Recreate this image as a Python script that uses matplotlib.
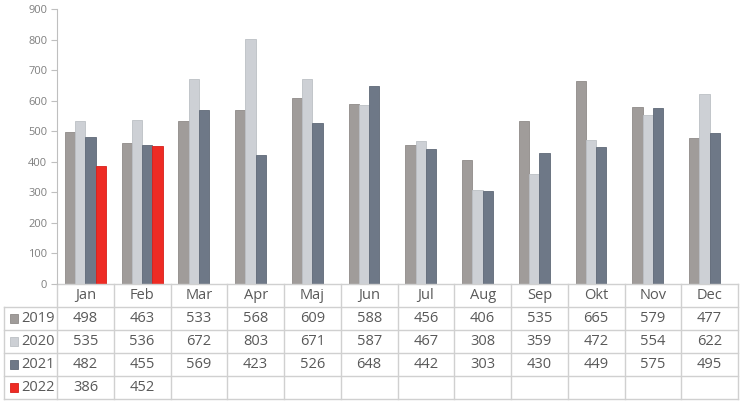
#!/usr/bin/env python3
"""Monthly values 2019-2022 as grouped bars with an Excel-style data table below."""

import matplotlib
matplotlib.use("Agg")
import matplotlib.pyplot as plt
from matplotlib.transforms import blended_transform_factory
from matplotlib.lines import Line2D
from matplotlib.patches import Rectangle

MONTHS = ["Jan", "Feb", "Mar", "Apr", "Maj", "Jun", "Jul", "Aug", "Sep", "Okt", "Nov", "Dec"]
YEARS = ["2019", "2020", "2021", "2022"]
VALUES_2019 = [498, 463, 533, 568, 609, 588, 456, 406, 535, 665, 579, 477]
VALUES_2020 = [535, 536, 672, 803, 671, 587, 467, 308, 359, 472, 554, 622]
VALUES_2021 = [482, 455, 569, 423, 526, 648, 442, 303, 430, 449, 575, 495]
VALUES_2022 = [386, 452]
Y_TICKS = [0, 100, 200, 300, 400, 500, 600, 700, 800, 900]

SERIES = [VALUES_2019, VALUES_2020, VALUES_2021, VALUES_2022]
COLORS = ["#a09c9a", "#cdd0d5", "#6e7887", "#ee2b24"]
EDGES = ["#8f8b89", "#bcc0c5", "#5f6977", "#d8201a"]
TEXT_COLOR = "#595959"
LINE_COLOR = "#d0d0d0"

W, H = 746, 404
fig = plt.figure(figsize=(W / 100, H / 100), dpi=100)
ax = fig.add_axes([57 / W, 120 / H, (738 - 57) / W, 275 / H])

bar_w = 0.18
for i, (vals, col, edge) in enumerate(zip(SERIES, COLORS, EDGES)):
    xs = [m + (i - 1.5) * bar_w for m in range(len(vals))]
    ax.bar(xs, vals, width=bar_w, color=col, edgecolor=edge, linewidth=0.6, zorder=2)

ax.set_xlim(-0.5, len(MONTHS) - 0.5)
ax.set_ylim(0, 900)
ax.set_yticks(Y_TICKS)
ax.set_yticklabels([str(t) for t in Y_TICKS], fontsize=8, color="#7f7f7f", family="Open Sans")
ax.set_xticks([])
ax.tick_params(axis="y", length=4, color="#bfbfbf", width=0.8, pad=3)
for side in ["top", "right", "bottom"]:
    ax.spines[side].set_visible(False)
ax.spines["left"].set_color("#bfbfbf")
ax.spines["left"].set_linewidth(0.8)

# data table below the axes: x in data units, y in axes fraction
tr = blended_transform_factory(ax.transData, ax.transAxes)
row_h = 23 / 275
n_rows = len(YEARS) + 1
left_x = -0.5 - 53 / ((738 - 57) / len(MONTHS))
right_x = len(MONTHS) - 0.5

def hline(x0, x1, y):
    ax.add_line(Line2D([x0, x1], [y, y], transform=tr, color=LINE_COLOR, lw=1.0, clip_on=False))

def vline(x, y0, y1):
    ax.add_line(Line2D([x, x], [y0, y1], transform=tr, color=LINE_COLOR, lw=1.0, clip_on=False))

hline(-0.5, right_x, 0)
for r in range(1, n_rows + 1):
    hline(left_x, right_x, -r * row_h)
vline(left_x, -row_h, -n_rows * row_h)
for k in range(len(MONTHS) + 1):
    vline(k - 0.5, 0, -n_rows * row_h)

font = dict(fontsize=10.5, color=TEXT_COLOR, family="Open Sans", ha="center", va="center")
for m, name in enumerate(MONTHS):
    ax.text(m, -0.5 * row_h, name, transform=tr, clip_on=False, **font)

for r, (year, vals, col, edge) in enumerate(zip(YEARS, SERIES, COLORS, EDGES), start=1):
    yc = -(r + 0.5) * row_h
    ax.add_patch(Rectangle((left_x + 0.11, yc - 0.015), 0.14, 0.03, transform=tr,
                           facecolor=col, edgecolor=edge, lw=0.6, clip_on=False))
    ax.text(left_x + 0.31, yc, year, transform=tr, clip_on=False,
            **{**font, "ha": "left"})
    for m, v in enumerate(vals):
        ax.text(m, yc, str(v), transform=tr, clip_on=False, **font)

fig.savefig("out.png", dpi=100)
